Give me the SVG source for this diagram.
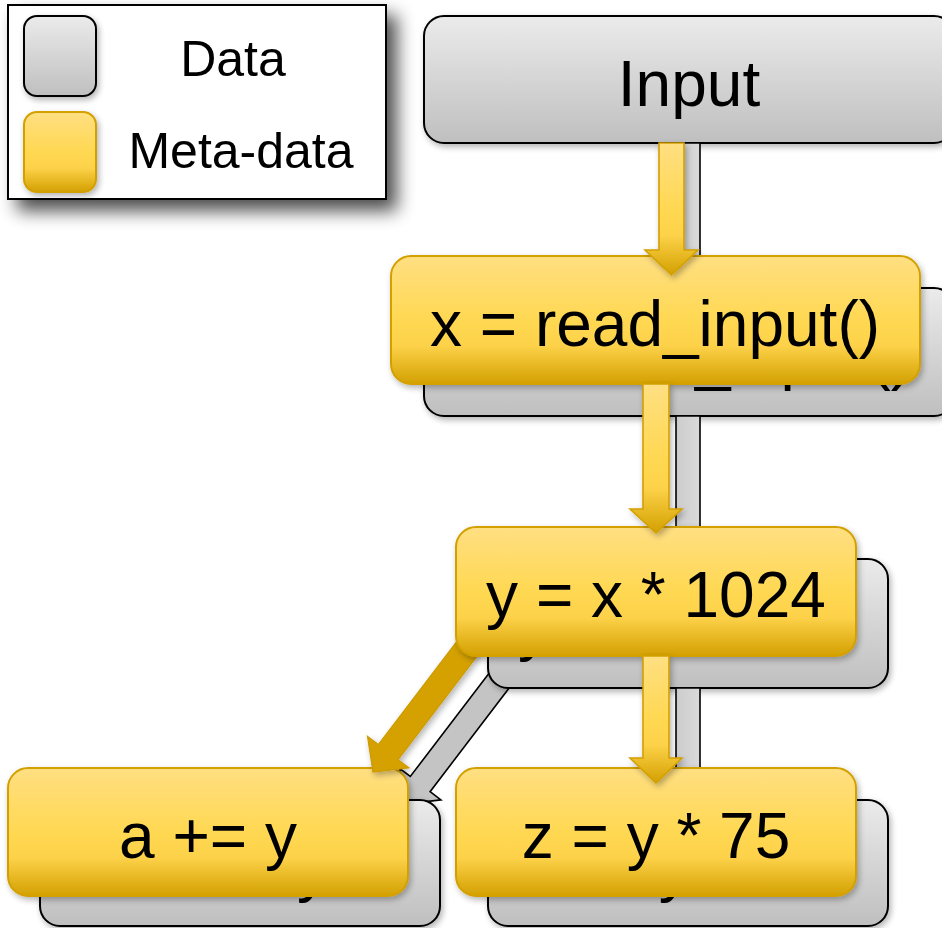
<svg xmlns="http://www.w3.org/2000/svg" width="942" height="928" viewBox="0 0 942 928">
  <defs>
    <linearGradient id="gGold" x1="0" y1="0" x2="0" y2="1">
      <stop offset="0" stop-color="#FFDF82"/>
      <stop offset="0.5" stop-color="#FFD852"/>
      <stop offset="0.7" stop-color="#FDD24A"/>
      <stop offset="1" stop-color="#D3A000"/>
    </linearGradient>
    <linearGradient id="gGray" x1="0" y1="0" x2="0" y2="1">
      <stop offset="0" stop-color="#EBEBEB"/>
      <stop offset="1" stop-color="#BFBFBF"/>
    </linearGradient>
    <linearGradient id="gGrayArrow" x1="0" y1="0" x2="1" y2="0">
      <stop offset="0" stop-color="#C4C4C4"/>
      <stop offset="1" stop-color="#E2E2E2"/>
    </linearGradient>
    <filter id="shBig" x="-15%" y="-15%" width="140%" height="150%">
      <feGaussianBlur in="SourceAlpha" stdDeviation="9"/>
      <feOffset dx="10" dy="11" result="b"/>
      <feComponentTransfer><feFuncA type="linear" slope="0.7"/></feComponentTransfer>
      <feMerge><feMergeNode/><feMergeNode in="SourceGraphic"/></feMerge>
    </filter>
    <filter id="sh" x="-10%" y="-10%" width="125%" height="130%">
      <feGaussianBlur in="SourceAlpha" stdDeviation="3"/>
      <feOffset dx="2" dy="3" result="b"/>
      <feComponentTransfer><feFuncA type="linear" slope="0.3"/></feComponentTransfer>
      <feMerge><feMergeNode/><feMergeNode in="SourceGraphic"/></feMerge>
    </filter>
  </defs>
  <style>
    .gold { fill: url(#gGold); stroke: #D4A000; stroke-width: 2; }
    .gray { fill: url(#gGray); stroke: #000; stroke-width: 2; }
    .ga { fill: url(#gGrayArrow); stroke: #000; stroke-width: 1.6; }
    .ya { fill: url(#gGold); stroke: #D4A000; stroke-width: 1.6; }
    .yd { fill: #D4A106; stroke: #CC9A00; stroke-width: 1.2; }
    .gd { fill: #C4C4C4; stroke: #000; stroke-width: 1.6; }
    text { font-family: "Liberation Sans", Arial, sans-serif; fill: #000; text-anchor: middle; }
    .t64 { font-size: 64px; }
    .t50 { font-size: 50px; }
  </style>

  <!-- Legend -->
  <g id="legend">
    <rect x="8" y="5" width="378" height="194" fill="#fff" stroke="#000" stroke-width="2" filter="url(#shBig)"/>
    <rect x="24" y="16" width="72" height="80" rx="13" class="gray" filter="url(#sh)"/>
    <rect x="24" y="112" width="72" height="80" rx="13" class="gold" filter="url(#sh)"/>
    <text x="233" y="76" class="t50">Data</text>
    <text x="241" y="168" class="t50">Meta-data</text>
  </g>

  <!-- Data layer connectors (behind) -->
  <g id="data-connectors-back">
    <path class="gd" d="M504.1,653.4 L410.3,776.5 L399.5,768.3 L405,804 L440.9,799.9 L430.1,791.7 L523.9,668.6 Z"/>
  </g>

  <!-- Data layer nodes -->
  <g id="data-a" filter="url(#sh)">
    <rect x="40" y="800" width="400" height="126" rx="20" class="gray"/>
    <text x="240" y="890" class="t64">a += y</text>
  </g>
  <g id="data-z" filter="url(#sh)">
    <rect x="488" y="800" width="400" height="126" rx="20" class="gray"/>
    <text x="688" y="890" class="t64">z = y * 75</text>
  </g>
  <g id="data-read" filter="url(#sh)">
    <rect x="424" y="288" width="530" height="128" rx="20" class="gray"/>
    <text x="687" y="378" class="t64">x = read_input()</text>
  </g>
  <g id="data-y" filter="url(#sh)">
    <rect x="488" y="559" width="400" height="129" rx="20" class="gray"/>
    <text x="688" y="649" class="t64">y = x * 1024</text>
  </g>
  <g id="input" filter="url(#sh)">
    <rect x="424" y="16" width="530" height="127" rx="20" class="gray"/>
    <text x="689" y="106" class="t64">Input</text>
  </g>

  <!-- Data layer connectors -->
  <g id="data-connectors">
    <path class="ga" d="M676,143 L700,143 L700,275 L714,275 L688,300 L662,275 L676,275 Z"/>
    <path class="ga" d="M676,416 L700,416 L700,541 L714,541 L688,565 L662,541 L676,541 Z"/>
    <path class="ga" d="M676,688 L700,688 L700,790 L714,790 L688,815 L662,790 L676,790 Z"/>
  </g>

  <!-- Meta-data layer -->
  <g id="meta-a" filter="url(#sh)">
    <rect x="8" y="768" width="400" height="128" rx="20" class="gold"/>
    <text x="208" y="858" class="t64">a += y</text>
  </g>
  <g id="meta-z" filter="url(#sh)">
    <rect x="456" y="768" width="400" height="128" rx="20" class="gold"/>
    <text x="656" y="858" class="t64">z = y * 75</text>
  </g>
  <g id="meta-read" filter="url(#sh)">
    <rect x="391" y="256" width="529" height="128" rx="20" class="gold"/>
    <text x="655" y="346" class="t64">x = read_input()</text>
  </g>

  <g id="meta-connector-diag" filter="url(#sh)">
    <path class="yd" d="M472.1,621.4 L378.3,744.5 L367.5,736.3 L373,772 L408.9,767.9 L398.1,759.7 L491.9,636.6 Z"/>
  </g>

  <g id="meta-y" filter="url(#sh)">
    <rect x="456" y="527" width="400" height="129" rx="20" class="gold"/>
    <text x="656" y="617" class="t64">y = x * 1024</text>
  </g>

  <g id="meta-connectors" filter="url(#sh)">
    <path class="ya" d="M659,143 L684,143 L684,250 L698,250 L671.5,275 L645,250 L659,250 Z"/>
    <path class="ya" d="M643,384 L669,384 L669,509 L682,509 L656,533 L630,509 L643,509 Z"/>
    <path class="ya" d="M643,656 L669,656 L669,758 L682,758 L656,783 L630,758 L643,758 Z"/>
  </g>
</svg>
